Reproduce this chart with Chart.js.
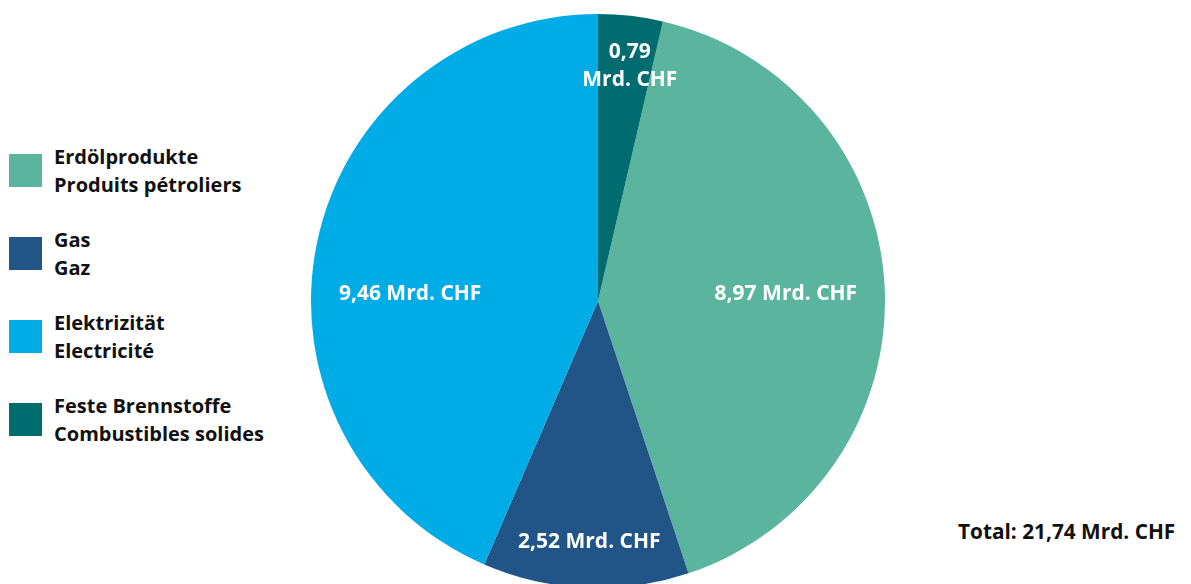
<!DOCTYPE html>
<html>
<head>
<meta charset="utf-8">
<script src="https://cdn.jsdelivr.net/npm/chart.js@4/dist/chart.umd.min.js"></script>
<style>
  html, body { margin: 0; padding: 0; background: #fff; }
  body { width: 1191px; height: 584px; overflow: hidden; position: relative; font-family: "Open Sans", sans-serif; font-weight: 700; }
  #pieWrap { position: absolute; left: 311px; top: 14px; width: 574px; height: 574px; }
  .item { position: absolute; left: 9px; }
  .swatch { position: absolute; left: 0; top: 11.5px; width: 33px; height: 33px; }
  .text { position: absolute; left: 45px; top: 0; font-size: 20px; line-height: 28px; color: #111; white-space: nowrap; }
  #total { position: absolute; left: 958px; top: 517px; font-size: 20.8px; line-height: 28px; color: #111; white-space: nowrap; }
</style>
</head>
<body>
<div id="legend"></div>
<div id="pieWrap"><canvas id="pieChart"></canvas></div>
<div id="total"></div>
<script>
// values in Mrd. CHF
const labelsDe = ["Erdölprodukte", "Gas", "Elektrizität", "Feste Brennstoffe"];
const labelsFr = ["Produits pétroliers", "Gaz", "Electricité", "Combustibles solides"];
const values = [8.97, 2.52, 9.46, 0.79];
const colors = ["#5bb59e", "#215487", "#00ace6", "#006c70"];
const totalValue = 21.74;

// where the value text sits inside each slice (fraction along the arc, fraction of radius)
const labelPlace = [
  { along: 0.504, radius: 0.655 },
  { along: 0.49, radius: 0.84 },
  { along: 0.439, radius: 0.655 },
  { along: 0.59, radius: 0.826 },
];

const fmt = (v) => v.toFixed(2).replace(".", ",");

// legend built from the arrays
const legend = document.getElementById("legend");
labelsDe.forEach((de, i) => {
  const item = document.createElement("div");
  item.className = "item";
  item.style.top = 142.5 + i * 83 + "px";
  item.innerHTML =
    `<div class="swatch" style="background:${colors[i]}"></div>` +
    `<div class="text">${de}<br>${labelsFr[i]}</div>`;
  legend.appendChild(item);
});

document.getElementById("total").textContent = `Total: ${fmt(totalValue)} Mrd. CHF`;

const sliceLabels = {
  id: "sliceLabels",
  afterDatasetsDraw(chart) {
    const ctx = chart.ctx;
    const meta = chart.getDatasetMeta(0);
    ctx.save();
    ctx.fillStyle = "#fff";
    ctx.font = "bold 21px 'Open Sans'";
    ctx.textAlign = "center";
    ctx.textBaseline = "middle";
    meta.data.forEach((arc, i) => {
      const p = arc.getProps(["x", "y", "startAngle", "endAngle", "outerRadius"], true);
      const a = p.startAngle + labelPlace[i].along * (p.endAngle - p.startAngle);
      const r = labelPlace[i].radius * p.outerRadius;
      const x = p.x + Math.cos(a) * r;
      const y = p.y + Math.sin(a) * r;
      const v = chart.data.datasets[0].data[i];
      if (v < 1) {
        // small slice: split onto two lines
        ctx.fillText(fmt(v), x, y - 14);
        ctx.fillText("Mrd. CHF", x, y + 14);
      } else {
        ctx.fillText(`${fmt(v)} Mrd. CHF`, x, y);
      }
    });
    ctx.restore();
  },
};

const startRotation = (values[3] / totalValue) * 360;

new Chart(document.getElementById("pieChart"), {
  type: "pie",
  data: {
    labels: labelsDe,
    datasets: [
      {
        data: values,
        backgroundColor: colors,
        borderWidth: 0,
      },
    ],
  },
  options: {
    responsive: true,
    maintainAspectRatio: false,
    animation: false,
    rotation: startRotation,
    layout: { padding: 0 },
    plugins: {
      legend: { display: false },
      tooltip: { enabled: false },
    },
  },
  plugins: [sliceLabels],
});
</script>
</body>
</html>
